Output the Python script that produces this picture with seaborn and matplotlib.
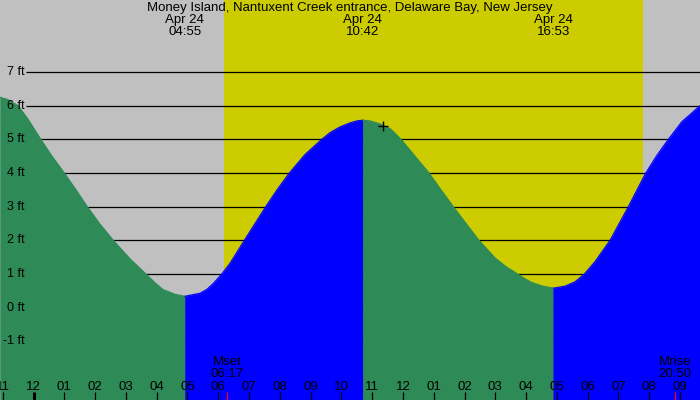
import matplotlib
matplotlib.use("Agg")
import matplotlib.pyplot as plt
import matplotlib.transforms as mtransforms
import seaborn as sns
import numpy as np

# ---------------- data (hours from midnight Apr 24, feet) ----------------
tide_hours = [-1.088, -0.828, -0.503, -0.179, 0.234, 0.601, 1.000, 1.380, 1.748,
              2.160, 2.592, 3.135, 3.654, 3.947, 4.206, 4.596, 4.917,
              5.409, 5.636, 5.840, 6.113, 6.383, 6.847, 7.195, 7.542, 7.909,
              8.309, 8.819, 9.361, 9.631, 9.956, 10.280, 10.507, 10.700,
              10.930, 11.256, 11.581, 11.798, 11.937, 12.392, 12.847, 13.237,
              13.636, 14.049, 14.471, 14.990, 15.348, 15.728, 15.965, 16.182,
              16.549, 16.883, 17.264, 17.590, 17.891, 18.239, 18.726, 19.321,
              19.886, 20.253, 20.620, 21.055, 21.649]
tide_heights = [6.25, 6.18, 6.00, 5.60, 5.00, 4.50, 4.00, 3.50, 3.00,
                2.48, 2.00, 1.45, 1.00, 0.74, 0.54, 0.40, 0.34,
                0.43, 0.55, 0.72, 1.00, 1.32, 2.00, 2.50, 3.00, 3.50,
                4.00, 4.55, 5.00, 5.20, 5.37, 5.49, 5.55, 5.57,
                5.55, 5.46, 5.32, 5.13, 5.00, 4.50, 4.00, 3.50,
                3.00, 2.50, 2.00, 1.48, 1.22, 1.00, 0.86, 0.75,
                0.64, 0.58, 0.64, 0.77, 1.00, 1.37, 2.00, 3.00,
                4.00, 4.53, 5.00, 5.52, 6.00]

extreme_hours = [4.917, 10.700, 16.883]
extreme_labels = ["04:55", "10:42", "16:53"]
extreme_date = "Apr 24"

sunrise_hour = 6.20
sunset_hour = 19.80

moon_event_hours = [6.283, 20.833]
moon_event_names = ["Mset", "Mrise"]
moon_event_times = ["06:17", "20:50"]

now_hour = [11.35]
now_height = [5.39]

hour_positions = list(range(-1, 22))
hour_labels = ["11", "12", "01", "02", "03", "04", "05", "06", "07", "08", "09",
               "10", "11", "12", "01", "02", "03", "04", "05", "06", "07",
               "08", "09"]

feet_levels = [-1, 0, 1, 2, 3, 4, 5, 6, 7]
feet_labels = ["-1 ft", "0 ft", "1 ft", "2 ft", "3 ft", "4 ft", "5 ft", "6 ft", "7 ft"]

title = "Money Island, Nantuxent Creek entrance, Delaware Bay, New Jersey"

# ---------------- style ----------------
plt.rcParams['font.family'] = ['Liberation Sans', 'DejaVu Sans']
GRAY = "#c0c0c0"
YELLOW = "#cccc00"
GREEN = "#2e8b57"
BLUE = "#0000ff"
FS = 9.5

W, H = 700, 400
px_per_hour = 30.786
midnight_px = 33.5
zero_ft_px = 307.7
px_per_ft = 33.67

xmin = -midnight_px / px_per_hour
xmax = (W - midnight_px) / px_per_hour
ymax = zero_ft_px / px_per_ft
ymin = -(H - zero_ft_px) / px_per_ft

def hx(px):
    return (px - midnight_px) / px_per_hour

def yfrac(px):
    return 1 - px / H

fig = plt.figure(figsize=(7, 4), dpi=100)
ax = fig.add_axes([0, 0, 1, 1])
ax.set_xlim(xmin, xmax)
ax.set_ylim(ymin, ymax)
ax.set_facecolor(GRAY)
for s in ax.spines.values():
    s.set_visible(False)
ax.set_xticks([])
ax.set_yticks([])

# daylight
ax.axvspan(sunrise_hour, sunset_hour, color=YELLOW, lw=0, zorder=0.5)

# level lines
ax.hlines(feet_levels, hx(26), xmax, color="black", lw=0.9, zorder=1)

# tide fills
t = np.array(tide_hours)
h = np.array(tide_heights)
bounds = [-np.inf] + extreme_hours + [np.inf]
seg_colors = [GREEN, BLUE, GREEN, BLUE]
for i in range(len(bounds) - 1):
    a, b = bounds[i], bounds[i + 1]
    m = (t >= a - 1e-9) & (t <= b + 1e-9)
    ax.fill_between(t[m], h[m], ymin, color=seg_colors[i], lw=0.3,
                    edgecolor=seg_colors[i], zorder=2)
    sns.lineplot(x=t[m], y=h[m], color=seg_colors[i], lw=0.8, ax=ax,
                 zorder=2.1, estimator=None, sort=False)

# current-time marker
sns.scatterplot(x=now_hour, y=now_height, marker="+", s=55, color="black",
                linewidth=1.0, ax=ax, zorder=6)

# y labels
for v, lab in zip(feet_levels, feet_labels):
    ax.text(hx(24.5), v, lab, ha="right", va="center", fontsize=FS - 0.5,
            color="black", zorder=7)

trans = mtransforms.blended_transform_factory(ax.transData, ax.transAxes)

# hour ticks and labels
for hp, lab in zip(hour_positions, hour_labels):
    ax.plot([hp, hp], [yfrac(392), 0], transform=trans, color="black",
            lw=2.2 if hp == 0 else 0.9, solid_capstyle="butt", zorder=7)
    ax.text(hp, yfrac(386.5), lab, transform=trans, ha="center", va="center",
            fontsize=FS, color="black", zorder=7)

# moon events
for mh, nm, tm in zip(moon_event_hours, moon_event_names, moon_event_times):
    ax.plot([mh, mh], [yfrac(392), 0], transform=trans, color="red",
            lw=0.9, solid_capstyle="butt", zorder=7)
    ax.text(mh, yfrac(362), nm, transform=trans, ha="center", va="center",
            fontsize=FS, color="black", zorder=7)
    ax.text(mh, yfrac(374), tm, transform=trans, ha="center", va="center",
            fontsize=FS, color="black", zorder=7)

# top labels
ax.text((xmin + xmax) / 2, yfrac(8.5), title, transform=trans, ha="center",
        va="center", fontsize=FS, color="black", zorder=7)
for eh, el in zip(extreme_hours, extreme_labels):
    ax.text(eh, yfrac(20), extreme_date, transform=trans, ha="center",
            va="center", fontsize=FS, color="black", zorder=7)
    ax.text(eh, yfrac(32), el, transform=trans, ha="center",
            va="center", fontsize=FS, color="black", zorder=7)

fig.savefig("out.png", dpi=100, facecolor=GRAY)
